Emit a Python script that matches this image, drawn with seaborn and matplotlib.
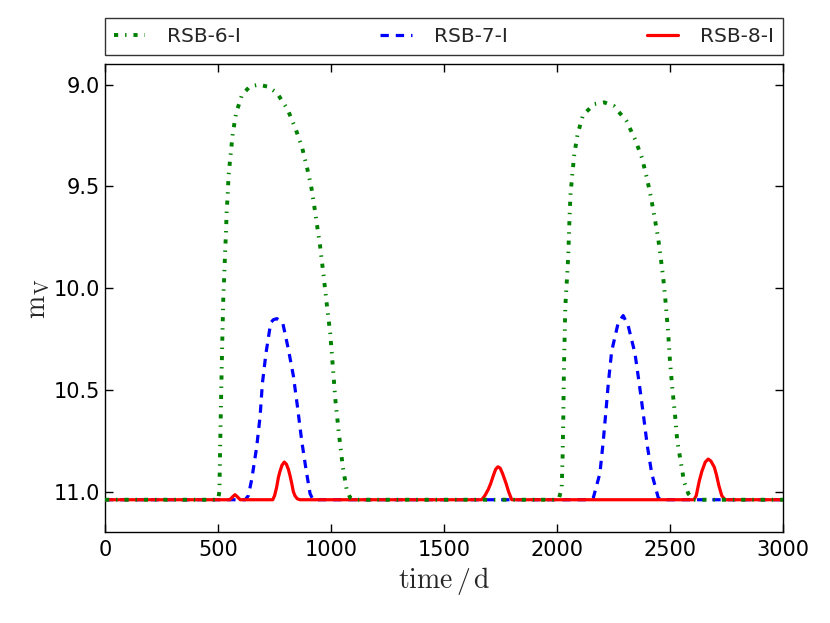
import matplotlib
matplotlib.use("Agg")
import matplotlib.pyplot as plt
import seaborn as sns
import pandas as pd

# ---- data ----
t6 = [0, 500, 506, 509, 516, 520, 523, 527, 531, 535, 538, 543, 547, 556, 565, 580, 606, 640, 680, 720,
      760, 807, 844, 872, 894, 912, 926, 939, 951, 966, 981, 996, 1008, 1019, 1034, 1052, 1069, 1084, 1100,
      2000, 2009, 2020, 2024, 2027, 2030, 2036, 2044, 2049, 2052, 2055, 2059, 2067, 2076, 2090, 2114, 2164,
      2208, 2251, 2307, 2345, 2375, 2397, 2416, 2431, 2446, 2458, 2469, 2478, 2491, 2499, 2509, 2521, 2531,
      2546, 2561, 2580, 2602, 3000]
m6 = [11.04, 11.04, 11.0, 10.8, 10.4, 10.2, 10.06, 9.95, 9.83, 9.73, 9.63, 9.53, 9.44, 9.34, 9.24, 9.14, 9.05,
      9.01, 9.0, 9.01, 9.04, 9.12, 9.22, 9.31, 9.41, 9.50, 9.60, 9.70, 9.79, 9.93, 10.08, 10.22, 10.39, 10.55,
      10.71, 10.88, 10.99, 11.03, 11.04,
      11.04, 11.03, 10.98, 10.83, 10.64, 10.39, 10.09, 9.94, 9.84, 9.74, 9.64, 9.54, 9.44, 9.34, 9.245, 9.15,
      9.095, 9.087, 9.105, 9.18, 9.27, 9.36, 9.46, 9.56, 9.655, 9.75, 9.85, 9.95, 10.05, 10.22, 10.36, 10.49,
      10.62, 10.75, 10.85, 10.95, 11.01, 11.04, 11.04]

t7 = [0, 620, 634, 649, 671, 686, 696, 712, 733, 745, 760, 775, 786, 811, 833, 851, 870, 889, 907, 920,
      2145, 2160, 2189, 2204, 2216, 2226, 2241, 2270, 2292, 2314, 2344, 2363, 2381, 2398, 2418, 2447, 2460, 3000]
m7 = [11.04, 11.04, 11.02, 10.94, 10.78, 10.63, 10.47, 10.32, 10.17, 10.155, 10.15, 10.16, 10.17, 10.30,
      10.43, 10.58, 10.75, 10.89, 11.01, 11.04,
      11.04, 11.03, 10.91, 10.75, 10.60, 10.47, 10.31, 10.17, 10.135, 10.185, 10.32, 10.47, 10.62, 10.77,
      10.91, 11.03, 11.04, 11.04]

t8 = [0, 552, 565, 575, 585, 598, 742, 750, 759, 767, 774, 783, 793, 802, 811, 818, 826, 833, 840, 850, 862,
      1666, 1680, 1695, 1706, 1718, 1728, 1738, 1748, 1758, 1774, 1785, 1799,
      2605, 2615, 2628, 2640, 2655, 2668, 2680, 2695, 2705, 2715, 2728, 2742, 3000]
m8 = [11.04, 11.04, 11.025, 11.015, 11.025, 11.04, 11.04, 11.02, 10.98, 10.93, 10.90, 10.87, 10.855, 10.865,
      10.89, 10.92, 10.96, 11.0, 11.02, 11.035, 11.04,
      11.04, 11.02, 10.99, 10.96, 10.92, 10.89, 10.878, 10.885, 10.91, 10.96, 11.0, 11.04,
      11.04, 11.02, 10.95, 10.90, 10.855, 10.84, 10.85, 10.88, 10.92, 10.97, 11.02, 11.04, 11.04]

names = ["RSB-6-I", "RSB-7-I", "RSB-8-I"]
colors = {"RSB-6-I": "green", "RSB-7-I": "blue", "RSB-8-I": "red"}
xticks = [0, 500, 1000, 1500, 2000, 2500, 3000]
yticks = [9.0, 9.5, 10.0, 10.5, 11.0]

df = pd.concat([
    pd.DataFrame({"time": t6, "mag": m6, "model": names[0]}),
    pd.DataFrame({"time": t7, "mag": m7, "model": names[1]}),
    pd.DataFrame({"time": t8, "mag": m8, "model": names[2]}),
], ignore_index=True)

sns.set_style("ticks")
plt.rcParams.update({
    "font.family": ["DejaVu Sans"],
    "mathtext.fontset": "cm",
    "lines.scale_dashes": False,
    "lines.dash_capstyle": "butt",
    "xtick.direction": "in",
    "ytick.direction": "in",
    "xtick.top": True,
    "ytick.right": True,
    "xtick.major.size": 5.5,
    "ytick.major.size": 5.5,
    "xtick.major.pad": 5.5,
    "axes.linewidth": 1.0,
    "axes.edgecolor": "black",
})

fig = plt.figure(figsize=(8.3, 6.23), dpi=100)
ax = fig.add_axes([0.1265, 0.1456, 0.9437 - 0.1265, 0.8968 - 0.1456])

sns.lineplot(data=df, x="time", y="mag", hue="model", style="model", palette=colors,
             dashes={"RSB-6-I": (3, 5, 1, 5), "RSB-7-I": (6, 5), "RSB-8-I": ""},
             estimator=None, sort=False, linewidth=2.3, ax=ax, legend=False)

lines = ax.get_lines()[:3]
lines[0].set_linewidth(2.8)
lines[0].set_zorder(4)
lines[1].set_zorder(2)
lines[2].set_zorder(3)

ax.set_xlim(0, 3000)
ax.set_ylim(11.2, 8.9)
ax.set_xticks(xticks)
ax.set_yticks(yticks)
ax.set_yticklabels([f"{v:.1f}" for v in yticks])
ax.tick_params(labelsize=15, width=1.0, colors="black")
ax.set_xlabel(r"$\mathrm{time\,/\,d}$", fontsize=20)
ax.set_ylabel(r"$\mathrm{m_V}$", fontsize=20, labelpad=1)

leg = ax.legend(lines, names, loc="lower left", bbox_to_anchor=(0, 1.02, 1, 0.077),
                mode="expand", ncol=3, borderaxespad=0, fontsize=14.5, handlelength=1.55,
                handletextpad=1.1, borderpad=0.45, fancybox=False, frameon=True)
leg.get_frame().set_edgecolor("black")
leg.get_frame().set_linewidth(1.0)

fig.savefig("out.png", dpi=100)
